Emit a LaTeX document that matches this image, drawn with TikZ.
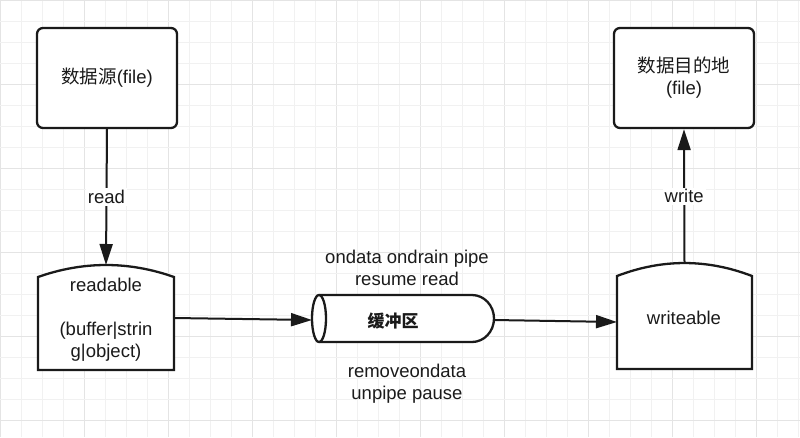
\documentclass[tikz,border=0pt]{standalone}
\usepackage{fontspec}
\setmainfont{Liberation Sans}
\newfontfamily\cjk{Noto Sans CJK SC}
\usetikzlibrary{arrows.meta}
\definecolor{gridminor}{HTML}{F1F1F1}
\definecolor{gridmajor}{HTML}{E4E4E4}
\definecolor{ink}{HTML}{1A1A1A}
\tikzset{
  shapeline/.style={draw=ink, line width=2.3pt, fill=white},
  procbox/.style={shapeline, rounded corners=6pt, minimum width=140pt, minimum height=100pt, align=center, inner sep=0pt},
  txt/.style={text=ink, align=center, inner sep=0pt, font=\fontsize{18.5pt}{22pt}\selectfont},
  edgelabel/.style={txt, fill=white, inner sep=2pt},
  conn/.style={draw=ink, line width=2pt, -{Triangle[length=21pt,width=13pt]}},
}
\begin{document}
\begin{tikzpicture}[x=1pt,y=-1pt, font=\fontsize{18.5pt}{22pt}\selectfont]
\useasboundingbox (0,0) rectangle (800,437);
% grid
\foreach \i in {0,...,38} {
  \pgfmathtruncatemacro\m{mod(\i,4)}
  \ifnum\m=0
    \draw[gridmajor, line width=1pt] (21*\i,0) -- (21*\i,437);
  \else
    \draw[gridminor, line width=1pt] (21*\i,0) -- (21*\i,437);
  \fi
}
\foreach \j in {0,...,20} {
  \pgfmathtruncatemacro\m{mod(\j,4)}
  \ifnum\m=0
    \draw[gridmajor, line width=1pt] (0,21*\j) -- (800,21*\j);
  \else
    \draw[gridminor, line width=1pt] (0,21*\j) -- (800,21*\j);
  \fi
}

% source and destination boxes
\node[procbox, txt] (src) at (107,78) {\cjk 数据源\rmfamily(file)};
\node[procbox, txt] (dst) at (684,78) {\cjk 数据目的地\\(file)};

% readable shape (quadratic top: peak at y=265)
\draw[shapeline] (38,370) -- (38,277) .. controls (83.3,261) and (128.7,261) .. (174,277) -- (174,370) -- cycle;
\node[txt] (readable) at (106,320) {readable\\[22pt](buffer|strin\\g|object)};
\coordinate (rdtop) at (106,265);
\coordinate (rdright) at (174,318);

% writeable shape (peak at y=263.5)
\draw[shapeline] (617,369) -- (617,276) .. controls (662,258.7) and (707,258.7) .. (752,276) -- (752,369) -- cycle;
\node[txt] (writeable) at (684,318) {writeable};
\coordinate (wrtop) at (684.5,263.5);
\coordinate (wrleft) at (617,322);

% buffer cylinder
\draw[shapeline] (319,295) -- (472,295) arc[start angle=-90, end angle=90, x radius=22pt, y radius=-23.5pt] -- (319,342) arc[start angle=90, end angle=270, x radius=7pt, y radius=-23.5pt] -- cycle;
\draw[shapeline, fill=none] (319,295) arc[start angle=-90, end angle=90, x radius=7pt, y radius=-23.5pt];
\node[txt, font=\fontsize{17pt}{22pt}\cjk\bfseries] (buffer) at (393,321) {缓冲区};
\coordinate (bufleft) at (312,320);
\coordinate (bufright) at (494,320);

% side labels
\node[txt] (toplabel) at (407,268) {ondata ondrain pipe\\resume read};
\node[txt] (botlabel) at (407,384) {removeondata\\unpipe pause};

% connectors
\draw[conn] (src.south) -- node[edgelabel] (readlbl) {read} (rdtop);
\draw[conn] (rdright) -- (bufleft);
\draw[conn] (bufright) -- (wrleft);
\draw[conn] (wrtop) -- node[edgelabel] (writelbl) {write} (dst.south);
\end{tikzpicture}
\end{document}
